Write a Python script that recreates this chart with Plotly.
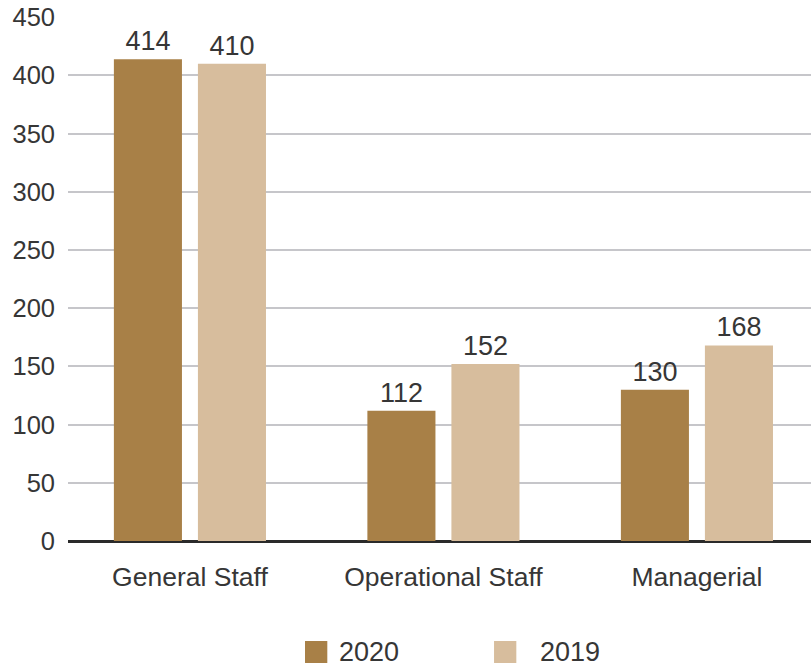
import plotly.graph_objects as go

categories = ["General Staff", "Operational Staff", "Managerial"]
series_names = ["2020", "2019"]
values_2020 = [414, 112, 130]
values_2019 = [410, 152, 168]
y_ticks = [0, 50, 100, 150, 200, 250, 300, 350, 400, 450]

colors = ["#A88047", "#D7BD9D"]
FONT = "Liberation Sans"
TXT = "#363636"

fig = go.Figure()
for name, vals, col in zip(series_names, [values_2020, values_2019], colors):
    fig.add_trace(go.Bar(
        x=categories, y=vals, name=name, marker=dict(color=col, line=dict(width=0)),
        text=[str(v) for v in vals], textposition="outside", cliponaxis=False,
        textfont=dict(size=27, color=TXT, family=FONT), showlegend=False,
    ))

fig.update_layout(
    width=811, height=667,
    margin=dict(l=68, r=0, t=17, b=126),
    paper_bgcolor="white", plot_bgcolor="white",
    barmode="group", bargap=0.337, bargroupgap=0.19,
    font=dict(family=FONT, color=TXT),
    showlegend=False,
)
fig.update_xaxes(
    range=[-0.481, 2.45], showgrid=False, showline=False, ticks="",
    tickfont=dict(size=26.5, color=TXT, family=FONT), ticklabelstandoff=17,
)
fig.update_yaxes(
    range=[0, 450.2], tickvals=y_ticks, showgrid=True, gridcolor="#C6C6CA", gridwidth=2,
    zeroline=True, zerolinecolor="#2A2A2A", zerolinewidth=3, showline=False, ticks="",
    tickfont=dict(size=25.5, color=TXT, family=FONT), ticklabelstandoff=12,
)

# legend (manual, to match the large square swatches)
leg_x = [0.319, 0.5734]
txt_x = [0.362, 0.632]
for i, (name, col) in enumerate(zip(series_names, colors)):
    fig.add_shape(type="rect", xref="paper", yref="paper",
                  x0=leg_x[i], x1=leg_x[i] + 0.0300, y0=-0.2328, y1=-0.1908,
                  fillcolor=col, line=dict(width=0))
    fig.add_annotation(xref="paper", yref="paper", x=txt_x[i],
                       y=-0.2118, text=name, showarrow=False, xanchor="left", yanchor="middle",
                       font=dict(size=27, color=TXT, family=FONT))

fig.write_html("out.html", config={"displayModeBar": False},
               post_script="document.body.style.margin='0';document.body.style.overflow='hidden';")
